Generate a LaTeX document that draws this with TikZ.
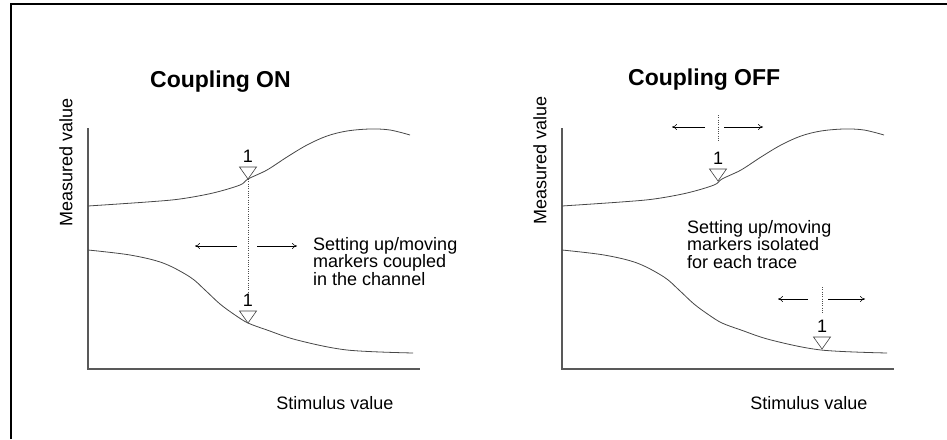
\documentclass[tikz,border=0pt]{standalone}
\usepackage{fontspec}
\setmainfont{Liberation Sans}
\usetikzlibrary{arrows.meta}
\begin{document}
\begin{tikzpicture}[x=1pt,y=-1pt,
  lbl/.style={font=\fontsize{18}{17.5}\selectfont, inner sep=0pt},
  note/.style={lbl, align=left, anchor=north west},
  ttl/.style={font=\fontsize{23}{25}\selectfont\bfseries, inner sep=0pt, anchor=base west},
  axis/.style={draw=black!65, line width=1.1pt},
  trace/.style={draw=black!72, line width=0.8pt},
  dots/.style={draw=black!70, line width=0.6pt, dash pattern=on 1pt off 1.3pt},
  arr/.style={draw=black, line width=0.6pt, -{To[length=5pt,width=6pt]}},
  mk/.style={draw=black!75, line width=0.6pt, fill=white},
  marker/.pic={
    \draw[mk] (-8.5,-12) -- (8.5,-12) -- (0,0) -- cycle;
    \node[lbl, anchor=base] (-one) at (0,-17) {1};
  },
]
\useasboundingbox (0,0) rectangle (947,439);
\draw[line width=2.6pt] (11,439) -- (11,4) -- (947,4);

% ---------- left chart ----------
\node[ttl] (t1) at (150,87) {Coupling ON};
\node[lbl, rotate=90] (yl1) at (66,162) {Measured value};
\node[lbl] (xl1) at (335,403) {Stimulus value};
\coordinate (o1) at (88,369);
\coordinate (yt1) at (88,128);
\coordinate (xe1) at (420,369);
\draw[axis] (yt1) -- (o1) -- (xe1);
\draw[trace] plot[smooth, tension=0.55] coordinates {(88,206) (147,202) (180,199) (213,193) (240,185) (248,179) (267,170) (287,157) (307,145) (327,136) (347,131) (370,129) (390,130) (410,135)};
\draw[trace] plot[smooth, tension=0.55] coordinates {(88,250) (130,255) (163,263) (190,277) (205,290) (220,304) (235,315) (248,323) (267,330) (297,340) (347,350) (413,353)};
\coordinate (d1a) at (248,179);
\coordinate (d1b) at (248,292);
\draw[dots] (d1a) -- (d1b);
\pic (m1) at (248,179) {marker};
\pic (m2) at (248,323) {marker};
\coordinate (a1s) at (237,246);
\coordinate (a1e) at (195,246);
\coordinate (a2s) at (257,246);
\coordinate (a2e) at (297,246);
\draw[arr] (a1s) -- (a1e);
\draw[arr] (a2s) -- (a2e);
\node[note] (n1) at (313,237) {Setting up/moving\\markers coupled\\in the channel};

% ---------- right chart ----------
\begin{scope}[xshift=474pt]
\node[ttl] (t2) at (154,85) {Coupling OFF};
\node[lbl, rotate=90] (yl2) at (66,160) {Measured value};
\node[lbl] (xl2) at (335,403) {Stimulus value};
\coordinate (o2) at (88,369);
\coordinate (yt2) at (88,128);
\coordinate (xe2) at (420,369);
\draw[axis] (yt2) -- (o2) -- (xe2);
\draw[trace] plot[smooth, tension=0.55] coordinates {(88,206) (147,202) (180,199) (213,193) (240,185) (248,179) (267,170) (287,157) (307,145) (327,136) (347,131) (370,129) (390,130) (410,135)};
\draw[trace] plot[smooth, tension=0.55] coordinates {(88,250) (130,255) (163,263) (190,277) (205,290) (220,304) (235,315) (248,323) (267,330) (297,340) (347,350) (413,353)};
\coordinate (d2a) at (244,115);
\coordinate (d2b) at (244,142);
\draw[dots] (d2a) -- (d2b);
\pic (m3) at (244,181) {marker};
\coordinate (b1s) at (231,127);
\coordinate (b1e) at (198,127);
\coordinate (b2s) at (250,127);
\coordinate (b2e) at (289,127);
\draw[arr] (b1s) -- (b1e);
\draw[arr] (b2s) -- (b2e);
\coordinate (d3a) at (348,287);
\coordinate (d3b) at (348,313);
\draw[dots] (d3a) -- (d3b);
\pic (m4) at (348,349) {marker};
\coordinate (c1s) at (334,299);
\coordinate (c1e) at (304,299);
\coordinate (c2s) at (354,299);
\coordinate (c2e) at (391,299);
\draw[arr] (c1s) -- (c1e);
\draw[arr] (c2s) -- (c2e);
\node[note] (n2) at (213,220) {Setting up/moving\\markers isolated\\for each trace};
\end{scope}
\end{tikzpicture}
\end{document}
